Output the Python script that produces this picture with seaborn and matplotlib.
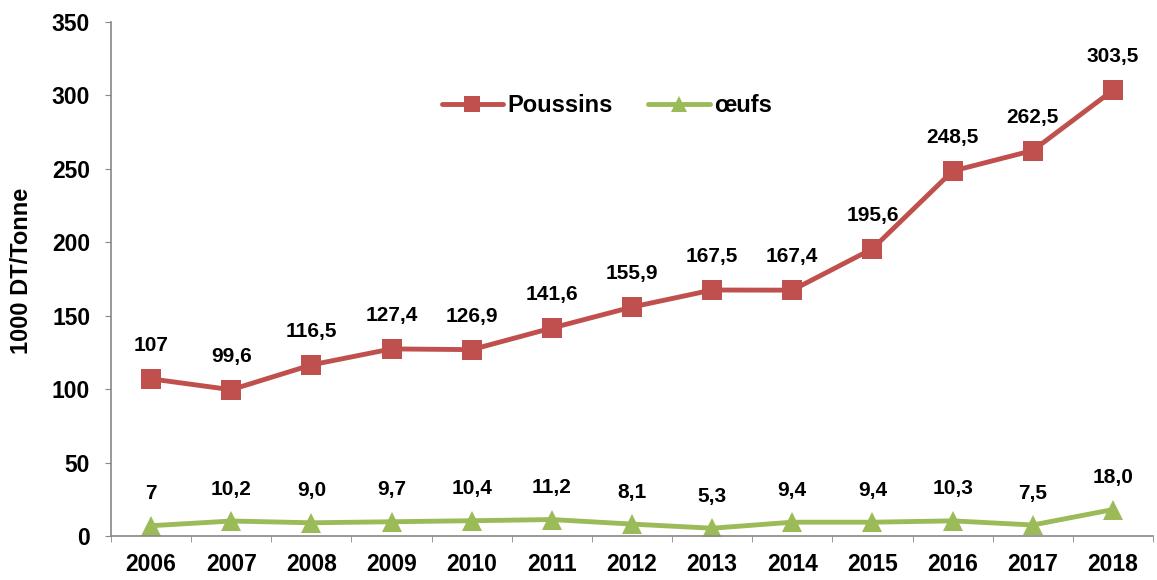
import matplotlib
matplotlib.use("Agg")
import matplotlib.pyplot as plt
import seaborn as sns
import pandas as pd

years = ["2006", "2007", "2008", "2009", "2010", "2011", "2012", "2013", "2014", "2015", "2016", "2017", "2018"]
poussins = [107, 99.6, 116.5, 127.4, 126.9, 141.6, 155.9, 167.5, 167.4, 195.6, 248.5, 262.5, 303.5]
oeufs = [7, 10.2, 9.0, 9.7, 10.4, 11.2, 8.1, 5.3, 9.4, 9.4, 10.3, 7.5, 18.0]
poussins_labels = ["107", "99,6", "116,5", "127,4", "126,9", "141,6", "155,9", "167,5", "167,4", "195,6", "248,5", "262,5", "303,5"]
oeufs_labels = ["7", "10,2", "9,0", "9,7", "10,4", "11,2", "8,1", "5,3", "9,4", "9,4", "10,3", "7,5", "18,0"]

sns.set_style("white")
plt.rcParams['font.family'] = ['Liberation Sans', 'DejaVu Sans']
plt.rcParams['font.weight'] = 'bold'
plt.rcParams['text.color'] = 'black'
plt.rcParams['axes.labelcolor'] = 'black'
plt.rcParams['xtick.labelcolor'] = 'black'
plt.rcParams['ytick.labelcolor'] = 'black'

idx = list(range(len(years)))
df = pd.DataFrame({"x": idx * 2,
                   "val": poussins + oeufs,
                   "serie": ["Poussins"] * len(years) + ["œufs"] * len(years)})

fig = plt.figure(figsize=(11.57, 5.8), dpi=100)
ax = fig.add_axes([111 / 1157, 1 - 536 / 580, (1153 - 111) / 1157, (536 - 22) / 580])

palette = {"Poussins": "#C0504D", "œufs": "#9BBB59"}
sns.lineplot(data=df, x="x", y="val", hue="serie", style="serie",
             markers={"Poussins": "s", "œufs": "^"}, dashes=False,
             palette=palette, linewidth=3.5, markersize=14, markeredgewidth=0,
             sort=False, ax=ax)

for i in idx:
    ax.annotate(poussins_labels[i], (i, poussins[i]), xytext=(0, 24), textcoords="offset points",
                ha="center", va="center", fontsize=15, fontweight="bold", color="black")
    ax.annotate(oeufs_labels[i], (i, oeufs[i]), xytext=(0, 23), textcoords="offset points",
                ha="center", va="center", fontsize=15, fontweight="bold", color="black")

ax.set_xlim(-0.5, 12.5)
ax.set_ylim(0, 350)
ax.set_yticks(range(0, 351, 50))
ax.set_xticks(idx)
ax.set_xticklabels(years, fontsize=16.5, fontweight="bold")
ax.set_xticks([i - 0.5 for i in range(len(years) + 1)], minor=True)
ax.tick_params(axis="x", which="major", length=0, pad=12, labelcolor="black")
ax.tick_params(axis="x", which="minor", length=4.5, color="#888888", direction="out", bottom=True)
ax.tick_params(axis="y", length=4, color="#888888", direction="out", left=True, labelsize=16.5, pad=11,
               labelcolor="black")
for lab in ax.get_yticklabels():
    lab.set_fontweight("bold")
ax.set_xlabel("")
ax.set_ylabel("1000 DT/Tonne", fontsize=17, fontweight="bold", color="black")
ax.yaxis.set_label_coords(-78 / 1042, 0.516)

for s in ["top", "right"]:
    ax.spines[s].set_visible(False)
for s in ["left", "bottom"]:
    ax.spines[s].set_color("#888888")
    ax.spines[s].set_linewidth(1.2)

leg = ax.legend(loc="center", bbox_to_anchor=(0.476, 0.838), ncol=2, frameon=False,
                fontsize=17, handlelength=2.6, columnspacing=1.5, handletextpad=0.2,
                markerscale=0.8)
for t in leg.get_texts():
    t.set_fontweight("bold")
    t.set_color("black")

fig.savefig("out.png", dpi=100)
